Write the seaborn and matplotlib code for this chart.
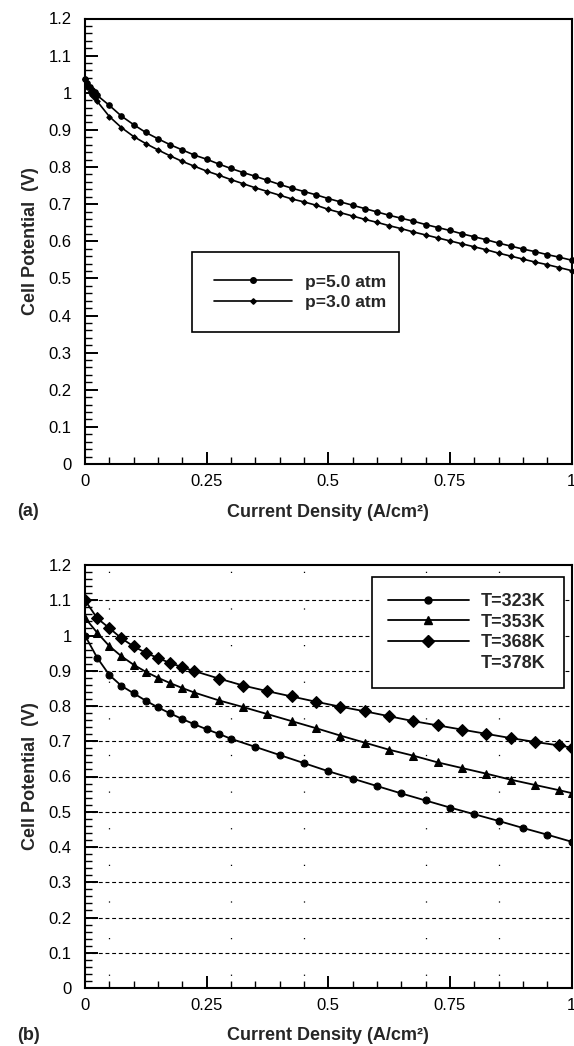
import matplotlib
matplotlib.use("Agg")
import matplotlib.pyplot as plt
from matplotlib.lines import Line2D
from matplotlib.ticker import MultipleLocator, FuncFormatter
import seaborn as sns
import pandas as pd

sns.set_theme(style="white")
plt.rcParams['font.family'] = ['Liberation Sans', 'DejaVu Sans']

# ---------------- data: panel (a) ----------------
x_a = [0, 0.005, 0.01, 0.015, 0.02, 0.025, 0.05, 0.075, 0.1, 0.125, 0.15, 0.175, 0.2,
       0.225, 0.25, 0.275, 0.3, 0.325, 0.35, 0.375, 0.4, 0.425, 0.45, 0.475, 0.5,
       0.525, 0.55, 0.575, 0.6, 0.625, 0.65, 0.675, 0.7, 0.725, 0.75, 0.775, 0.8,
       0.825, 0.85, 0.875, 0.9, 0.925, 0.95, 0.975, 1.0]
p5_atm = [1.038, 1.025, 1.015, 1.008, 1.001, 0.993, 0.966, 0.937, 0.914, 0.893, 0.876,
          0.860, 0.846, 0.832, 0.821, 0.808, 0.796, 0.785, 0.775, 0.764, 0.753, 0.743,
          0.734, 0.725, 0.715, 0.706, 0.697, 0.688, 0.679, 0.670, 0.662, 0.654, 0.645,
          0.637, 0.629, 0.620, 0.612, 0.604, 0.595, 0.587, 0.579, 0.572, 0.564, 0.557,
          0.549]
p3_atm = [1.038, 1.015, 1.003, 0.993, 0.985, 0.977, 0.936, 0.906, 0.882, 0.863, 0.846,
          0.830, 0.815, 0.802, 0.789, 0.778, 0.766, 0.755, 0.744, 0.734, 0.724, 0.714,
          0.706, 0.697, 0.686, 0.677, 0.668, 0.659, 0.651, 0.642, 0.634, 0.625, 0.617,
          0.609, 0.601, 0.593, 0.585, 0.577, 0.568, 0.560, 0.552, 0.544, 0.537, 0.529,
          0.521]
labels_a = ["p=5.0 atm", "p=3.0 atm"]

# ---------------- data: panel (b) ----------------
x_323 = [0, 0.025, 0.05, 0.075, 0.1, 0.125, 0.15, 0.175, 0.2, 0.225, 0.25, 0.275, 0.3,
         0.35, 0.4, 0.45, 0.5, 0.55, 0.6, 0.65, 0.7, 0.75, 0.8, 0.85, 0.9, 0.95, 1.0]
T323 = [1.0, 0.937, 0.888, 0.857, 0.836, 0.815, 0.796, 0.779, 0.763, 0.748, 0.734, 0.721,
        0.707, 0.684, 0.661, 0.638, 0.615, 0.594, 0.573, 0.552, 0.532, 0.512, 0.493,
        0.474, 0.454, 0.435, 0.415]
x_hot = [0, 0.025, 0.05, 0.075, 0.1, 0.125, 0.15, 0.175, 0.2, 0.225, 0.275, 0.325, 0.375,
         0.425, 0.475, 0.525, 0.575, 0.625, 0.675, 0.725, 0.775, 0.825, 0.875, 0.925,
         0.975, 1.0]
T353 = [1.05, 1.008, 0.970, 0.941, 0.917, 0.897, 0.880, 0.865, 0.851, 0.838, 0.816, 0.797,
        0.777, 0.757, 0.737, 0.716, 0.696, 0.676, 0.659, 0.640, 0.624, 0.608, 0.591,
        0.576, 0.561, 0.553]
T368 = [1.1, 1.049, 1.021, 0.992, 0.969, 0.951, 0.936, 0.922, 0.910, 0.899, 0.878, 0.858,
        0.842, 0.827, 0.812, 0.798, 0.785, 0.771, 0.757, 0.745, 0.733, 0.721, 0.709,
        0.698, 0.688, 0.682]
labels_b = ["T=323K", "T=353K", "T=368K", "T=378K"]

x_ticks = [0, 0.25, 0.5, 0.75, 1]
y_ticks = [0, 0.1, 0.2, 0.3, 0.4, 0.5, 0.6, 0.7, 0.8, 0.9, 1.0, 1.1, 1.2]
grid_y = [0.1, 0.2, 0.3, 0.4, 0.5, 0.6, 0.7, 0.8, 0.9, 1.0, 1.1]
grid_x = [0.05, 0.3, 0.45, 0.7, 0.85]

W, H = 574, 1046
fig = plt.figure(figsize=(W / 100, H / 100), dpi=100)
fig.patch.set_facecolor('white')


def rect(l, t, r, b):
    return [l / W, 1 - b / H, (r - l) / W, (b - t) / H]


A_L, A_R = 85, 571.5
ax_a = fig.add_axes(rect(A_L, 18.5, A_R, 464))
ax_b = fig.add_axes(rect(A_L, 565, A_R, 988))

TFS = 12      # tick labels
LFS = 13      # axis labels


def fmt(v, pos):
    return f"{v:.2f}".rstrip('0').rstrip('.')


def style_axes(ax, h_px):
    ax.set_xlim(0, 1)
    ax.set_ylim(0, 1.2)
    ax.set_xticks(x_ticks)
    ax.set_yticks(y_ticks)
    ax.xaxis.set_minor_locator(MultipleLocator(0.05))
    ax.yaxis.set_minor_locator(MultipleLocator(0.02))
    ax.xaxis.set_major_formatter(FuncFormatter(fmt))
    ax.yaxis.set_major_formatter(FuncFormatter(fmt))
    ax.tick_params(which='both', direction='in', top=False, right=False,
                   left=True, bottom=True, colors='black', labelsize=TFS)
    ax.tick_params(which='major', length=9, width=1.4)
    ax.tick_params(which='minor', length=5.3, width=1.0)
    ax.tick_params(axis='x', which='major', pad=7.5)
    ax.tick_params(axis='y', which='major', pad=9.5)
    for s in ['top', 'right', 'left', 'bottom']:
        ax.spines[s].set_linewidth(1.5)
        ax.spines[s].set_color('black')
    ax.set_xlabel("Current Density (A/cm²)", fontsize=LFS, fontweight='bold')
    ax.set_ylabel("Cell Potential  (V)", fontsize=LFS, fontweight='bold')
    ax.xaxis.label.set_va('center')
    ax.yaxis.label.set_va('center')
    ax.xaxis.set_label_coords(0.5, -48 / h_px)
    ax.yaxis.set_label_coords((31 - A_L) / (A_R - A_L), 0.5)
    ax.set_facecolor('white')


# ---------------- panel (a) ----------------
df_a = pd.DataFrame({"x": x_a + x_a,
                     "y": p5_atm + p3_atm,
                     "series": [labels_a[0]] * len(x_a) + [labels_a[1]] * len(x_a)})
sns.lineplot(data=df_a[df_a.series == labels_a[0]], x="x", y="y", ax=ax_a, color='black',
             lw=1.2, marker='o', markersize=4.0, markeredgecolor='black', clip_on=False,
             legend=False, zorder=3)
sns.lineplot(data=df_a[df_a.series == labels_a[1]], x="x", y="y", ax=ax_a, color='black',
             lw=1.2, marker='D', markersize=2.8, markeredgecolor='black', clip_on=False,
             legend=False, zorder=3)
style_axes(ax_a, 464 - 18.5)
h_a = [Line2D([], [], color='black', lw=1.2, marker='o', markersize=4.0),
       Line2D([], [], color='black', lw=1.2, marker='D', markersize=2.8)]
leg_a = ax_a.legend(h_a, labels_a, loc='upper left', bbox_to_anchor=(0.220, 0.300, 0.425, 0.175),
                    mode='expand', fancybox=False, framealpha=1, edgecolor='black',
                    prop={'weight': 'bold', 'size': 12.6}, handlelength=4.45, handletextpad=0.78,
                    borderpad=1.25, labelspacing=0.28, borderaxespad=0)
leg_a.get_frame().set_linewidth(1.2)

# ---------------- panel (b) ----------------
for gy in grid_y:
    ax_b.axhline(gy, color='black', lw=0.8, ls=(0, (3.5, 2.5)), zorder=1)
for gx in grid_x:
    ax_b.axvline(gx, color='black', lw=0.9, ls=(19.2, (1, 28.3)), zorder=1)

df_b = pd.DataFrame({"x": x_323 + x_hot + x_hot,
                     "y": T323 + T353 + T368,
                     "series": [labels_b[0]] * len(x_323) + [labels_b[1]] * len(x_hot)
                     + [labels_b[2]] * len(x_hot)})
markers_b = {labels_b[0]: ('o', 5.0), labels_b[1]: ('^', 5.5), labels_b[2]: ('D', 5.8)}
for lab in labels_b[:3]:
    mk, ms = markers_b[lab]
    sns.lineplot(data=df_b[df_b.series == lab], x="x", y="y", ax=ax_b, color='black',
                 lw=1.3, marker=mk, markersize=ms, markeredgecolor='black', clip_on=True,
                 legend=False, zorder=3)
style_axes(ax_b, 988 - 565)
h_b = [Line2D([], [], color='black', lw=1.3, marker=markers_b[l][0],
              markersize=markers_b[l][1]) for l in labels_b[:3]]
h_b.append(Line2D([], [], linestyle='none'))
leg_b = ax_b.legend(h_b, labels_b, loc='upper left', bbox_to_anchor=(0.590, 0.714, 0.395, 0.258),
                    mode='expand', fancybox=False, framealpha=1, edgecolor='black',
                    prop={'weight': 'bold', 'size': 13}, handlelength=4.45, handletextpad=0.67,
                    borderpad=0.9, labelspacing=0.2, borderaxespad=0)
leg_b.get_frame().set_linewidth(1.2)
leg_b.set_zorder(5)

fig.text(17 / W, 1 - 512 / H, "(a)", fontsize=LFS, fontweight='bold', va='center', ha='left')
fig.text(17 / W, 1 - 1036 / H, "(b)", fontsize=LFS, fontweight='bold', va='center', ha='left')

fig.savefig("out.png", dpi=100, facecolor='white')
